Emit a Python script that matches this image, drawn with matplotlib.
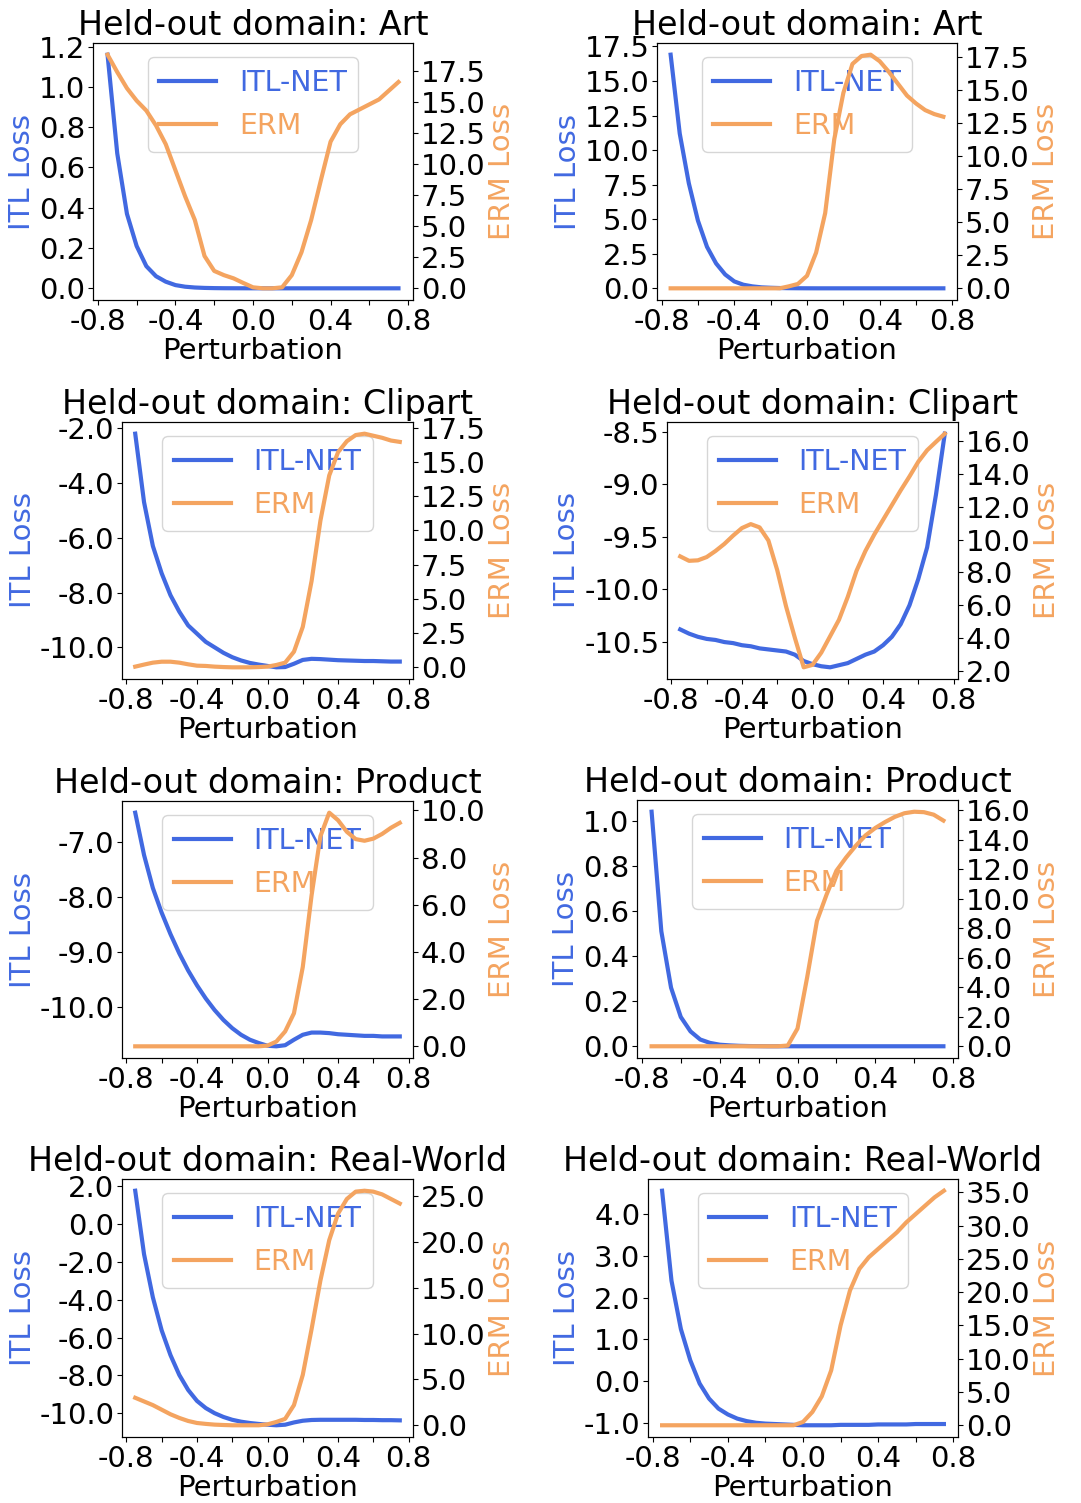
# loss landscape under perturbation: ITL-NET vs ERM, per held-out domain

import matplotlib
matplotlib.use('Agg')
import matplotlib.pyplot as plt

plt.rcParams['axes.unicode_minus'] = False

perturbation = [-0.75, -0.70, -0.65, -0.60, -0.55, -0.50, -0.45, -0.40, -0.35, -0.30,
                -0.25, -0.20, -0.15, -0.10, -0.05, 0.00, 0.05, 0.10, 0.15, 0.20,
                0.25, 0.30, 0.35, 0.40, 0.45, 0.50, 0.55, 0.60, 0.65, 0.70, 0.75]

# Art
itl_art_a = [1.16, 0.67, 0.37, 0.21, 0.11, 0.06, 0.033, 0.016, 0.008, 0.004, 0.002,
             0.001, 0.0005, 0.0003, 0.0002, 0.0001, 0.0001, 0, 0, 0, 0, 0, 0, 0, 0,
             0, 0, 0, 0, 0, 0]
erm_art_a = [18.8, 17.4, 16.1, 15.1, 14.3, 13.1, 11.6, 9.5, 7.4, 5.5, 2.6, 1.4, 1.06,
             0.8, 0.43, 0.08, 0.0, 0.0, 0.08, 1.06, 2.9, 5.5, 8.7, 11.8, 13.2, 14.0,
             14.4, 14.8, 15.2, 15.9, 16.6]
itl_art_b = [16.9, 11.2, 7.6, 4.9, 3.0, 1.8, 1.0, 0.5, 0.26, 0.14, 0.07, 0.04, 0.02,
             0.01, 0.005, 0.002, 0, 0, 0, 0, 0, 0, 0, 0, 0, 0, 0, 0, 0, 0, 0]
erm_art_b = [0, 0, 0, 0, 0, 0, 0, 0, 0, 0, 0, 0, 0, 0.15, 0.33, 0.95, 2.7, 5.7, 11.3,
             14.8, 17.0, 17.6, 17.7, 17.2, 16.4, 15.5, 14.6, 14.0, 13.5, 13.2, 13.0]

# Clipart
itl_clip_a = [-2.2, -4.7, -6.3, -7.3, -8.1, -8.7, -9.2, -9.5, -9.8, -10.0, -10.2,
              -10.36, -10.48, -10.57, -10.63, -10.68, -10.73, -10.72, -10.6, -10.46,
              -10.42, -10.43, -10.45, -10.47, -10.48, -10.49, -10.5, -10.5, -10.51,
              -10.52, -10.52]
erm_clip_a = [0.05, 0.2, 0.34, 0.41, 0.41, 0.34, 0.22, 0.12, 0.1, 0.05, 0.02, 0.0,
              0.0, 0.0, 0.02, 0.05, 0.17, 0.34, 1.14, 2.95, 6.3, 10.7, 14.0, 15.7,
              16.5, 16.95, 17.05, 16.9, 16.75, 16.55, 16.45]
itl_clip_b = [-10.38, -10.42, -10.45, -10.47, -10.48, -10.5, -10.51, -10.53, -10.54,
              -10.56, -10.57, -10.58, -10.59, -10.62, -10.68, -10.71, -10.73, -10.74,
              -10.72, -10.7, -10.66, -10.62, -10.59, -10.53, -10.45, -10.33, -10.15,
              -9.9, -9.6, -9.1, -8.52]
erm_clip_b = [8.97, 8.7, 8.73, 8.93, 9.3, 9.73, 10.24, 10.7, 10.94, 10.74, 9.94, 8.13,
              5.92, 4.0, 2.2, 2.35, 3.1, 4.1, 5.1, 6.5, 8.1, 9.3, 10.3, 11.2, 12.1,
              13.0, 13.85, 14.75, 15.45, 15.96, 16.46]

# Product
itl_prod_a = [-6.47, -7.24, -7.84, -8.29, -8.68, -9.03, -9.34, -9.61, -9.85, -10.06,
              -10.24, -10.39, -10.51, -10.6, -10.66, -10.71, -10.72, -10.7, -10.6,
              -10.51, -10.47, -10.47, -10.48, -10.5, -10.51, -10.52, -10.53, -10.53,
              -10.54, -10.54, -10.54]
erm_prod_a = [0, 0, 0, 0, 0, 0, 0, 0, 0, 0, 0, 0, 0, 0, 0, 0.03, 0.2, 0.63, 1.4,
              3.36, 6.4, 8.9, 9.9, 9.58, 9.09, 8.78, 8.71, 8.8, 9.0, 9.26, 9.47]
itl_prod_b = [1.04, 0.51, 0.26, 0.13, 0.066, 0.03, 0.015, 0.007, 0.004, 0.002, 0.001,
              0.0005, 0, 0, 0, 0, 0, 0, 0, 0, 0, 0, 0, 0, 0, 0, 0, 0, 0, 0, 0]
erm_prod_b = [0, 0, 0, 0, 0, 0, 0, 0, 0, 0, 0, 0, 0, 0, 0.05, 1.2, 4.7, 8.5, 10.3,
              11.9, 12.8, 13.6, 14.3, 14.8, 15.2, 15.55, 15.8, 15.9, 15.87, 15.7, 15.3]

# Real-World
itl_real_a = [1.77, -1.59, -3.87, -5.62, -6.93, -7.98, -8.77, -9.35, -9.73, -10.0,
              -10.2, -10.35, -10.45, -10.52, -10.57, -10.61, -10.64, -10.61, -10.49,
              -10.4, -10.36, -10.35, -10.35, -10.35, -10.35, -10.35, -10.36, -10.36,
              -10.37, -10.37, -10.38]
erm_real_a = [3.0, 2.6, 2.2, 1.7, 1.2, 0.8, 0.47, 0.25, 0.15, 0.07, 0.03, 0.0, 0.0,
              0.0, 0.0, 0.1, 0.36, 0.7, 2.2, 5.5, 10.5, 15.8, 20.2, 23.1, 24.7, 25.5,
              25.6, 25.5, 25.2, 24.7, 24.2]
itl_real_b = [4.57, 2.41, 1.25, 0.5, -0.06, -0.42, -0.66, -0.8, -0.9, -0.96, -1.0,
              -1.02, -1.03, -1.04, -1.05, -1.06, -1.06, -1.06, -1.06, -1.05, -1.05,
              -1.05, -1.05, -1.04, -1.04, -1.04, -1.04, -1.03, -1.03, -1.03, -1.03]
erm_real_b = [0, 0, 0, 0, 0, 0, 0, 0, 0, 0, 0, 0, 0, 0, 0, 0.5, 2.0, 4.35, 8.25, 15.0,
              20.25, 23.5, 25.25, 26.5, 27.75, 29.0, 30.5, 31.75, 33.0, 34.25, 35.25]

domains = ['Art', 'Art', 'Clipart', 'Clipart', 'Product', 'Product',
           'Real-World', 'Real-World']
itl_series = [itl_art_a, itl_art_b, itl_clip_a, itl_clip_b,
              itl_prod_a, itl_prod_b, itl_real_a, itl_real_b]
erm_series = [erm_art_a, erm_art_b, erm_clip_a, erm_clip_b,
              erm_prod_a, erm_prod_b, erm_real_a, erm_real_b]

itl_ticks = [[0.0, 0.2, 0.4, 0.6, 0.8, 1.0, 1.2],
             [0.0, 2.5, 5.0, 7.5, 10.0, 12.5, 15.0, 17.5],
             [-10.0, -8.0, -6.0, -4.0, -2.0],
             [-10.5, -10.0, -9.5, -9.0, -8.5],
             [-10.0, -9.0, -8.0, -7.0],
             [0.0, 0.2, 0.4, 0.6, 0.8, 1.0],
             [-10.0, -8.0, -6.0, -4.0, -2.0, 0.0, 2.0],
             [-1.0, 0.0, 1.0, 2.0, 3.0, 4.0]]
erm_ticks = [[0.0, 2.5, 5.0, 7.5, 10.0, 12.5, 15.0, 17.5],
             [0.0, 2.5, 5.0, 7.5, 10.0, 12.5, 15.0, 17.5],
             [0.0, 2.5, 5.0, 7.5, 10.0, 12.5, 15.0, 17.5],
             [2.0, 4.0, 6.0, 8.0, 10.0, 12.0, 14.0, 16.0],
             [0.0, 2.0, 4.0, 6.0, 8.0, 10.0],
             [0.0, 2.0, 4.0, 6.0, 8.0, 10.0, 12.0, 14.0, 16.0],
             [0.0, 5.0, 10.0, 15.0, 20.0, 25.0],
             [0.0, 5.0, 10.0, 15.0, 20.0, 25.0, 30.0, 35.0]]

x_ticks = [-0.8, -0.6, -0.4, -0.2, 0.0, 0.2, 0.4, 0.6, 0.8]
x_ticklabels = ['-0.8', '', '-0.4', '', '0.0', '', '0.4', '', '0.8']

itl_color = 'royalblue'
erm_color = 'sandybrown'

W, H = 1081, 1503
# axes boxes in pixels: left, right, top, bottom
boxes = [(93, 413, 43, 300), (657, 957, 43, 300),
         (122, 413, 422, 679), (667, 958, 422, 679),
         (122, 413, 801, 1058), (637, 958, 800, 1058),
         (122, 413, 1179, 1437), (648, 958, 1179, 1437)]

fig = plt.figure(figsize=(W / 100, H / 100), dpi=100)

for i in range(8):
    l, r, t, b = boxes[i]
    ax = fig.add_axes([l / W, 1 - b / H, (r - l) / W, (b - t) / H])
    l1, = ax.plot(perturbation, itl_series[i], color=itl_color, linewidth=3, label='ITL-NET')
    ax2 = ax.twinx()
    l2, = ax2.plot(perturbation, erm_series[i], color=erm_color, linewidth=3, label='ERM')

    ax.set_title('Held-out domain: ' + domains[i], fontsize=24)
    ax.set_xlabel('Perturbation', fontsize=21, labelpad=1)
    ax.set_ylabel('ITL Loss', fontsize=21, color=itl_color, labelpad=2)
    ax2.set_ylabel('ERM Loss', fontsize=21, color=erm_color, labelpad=2)

    ax.set_xticks(x_ticks)
    ax.set_xticklabels(x_ticklabels)
    ax.set_yticks(itl_ticks[i])
    ax.set_yticklabels(['%.1f' % t for t in itl_ticks[i]])
    ax2.set_yticks(erm_ticks[i])
    ax2.set_yticklabels(['%.1f' % t for t in erm_ticks[i]])
    ax.tick_params(labelsize=21, pad=2)
    ax2.tick_params(labelsize=21, pad=2)

    ax.legend(handles=[l1, l2], loc='upper center', fontsize=20.5,
              labelcolor='linecolor', labelspacing=0.55)

fig.savefig('out.png', dpi=100)
